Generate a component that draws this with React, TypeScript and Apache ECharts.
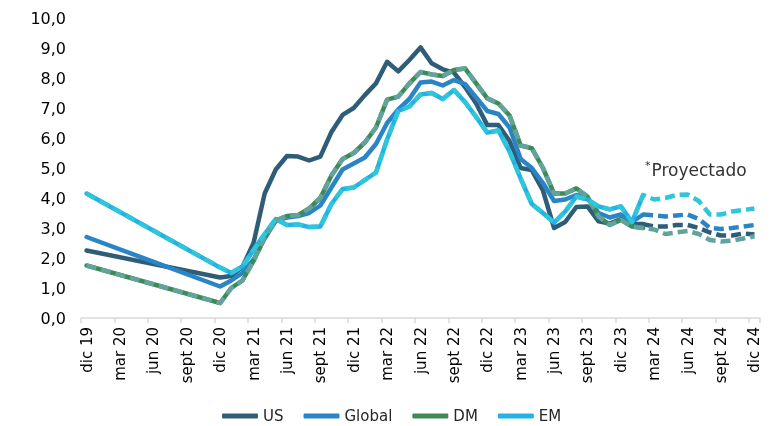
import React, { useEffect, useRef } from "react";
import * as echarts from "echarts";

const monthNames = ["dic", "ene", "feb", "mar", "abr", "may", "jun", "jul", "ago", "sept", "oct", "nov"];
const categories: string[] = [];
for (let i = 0; i <= 60; i++) {
  const m = i % 12;
  const yr = 19 + Math.floor((i + 11) / 12);
  categories.push(`${monthNames[m]} ${yr}`);
}

const N11 = [null, null, null, null, null, null, null, null, null, null, null];
const N10 = [null, null, null, null, null, null, null, null, null, null];
const N50 = new Array(50).fill(null);

const usValues = [2.25, ...N11,
  1.35, 1.4, 1.7, 2.5, 4.15, 4.95, 5.4, 5.38, 5.25, 5.38,
  6.2, 6.77, 7.0, 7.43, 7.82, 8.54, 8.22, 8.6, 9.02, 8.49,
  8.29, 8.18, 7.7, 7.15, 6.43, 6.43, 5.9, 5.0, 4.93, 4.25,
  3.0, 3.2, 3.7, 3.72, 3.22, 3.15, 3.3, 3.13, 3.13, ...N10];

const globalValues = [2.7, ...N11,
  1.05, 1.25, 1.5, 1.95, 2.65, 3.25, 3.35, 3.4, 3.5, 3.75,
  4.35, 4.95, 5.15, 5.35, 5.8, 6.5, 6.95, 7.3, 7.85, 7.88,
  7.75, 7.93, 7.8, 7.35, 6.9, 6.8, 6.35, 5.3, 5.0, 4.5,
  3.9, 3.95, 4.1, 4.0, 3.5, 3.35, 3.45, 3.2, 3.45, ...N10];

const dmValues = [1.75, ...N11,
  0.5, 1.0, 1.25, 1.9, 2.7, 3.25, 3.4, 3.43, 3.65, 4.0,
  4.75, 5.3, 5.5, 5.85, 6.35, 7.28, 7.38, 7.82, 8.2, 8.12,
  8.07, 8.27, 8.32, 7.82, 7.32, 7.15, 6.75, 5.75, 5.66, 5.0,
  4.15, 4.15, 4.32, 4.05, 3.38, 3.1, 3.27, 3.05, 3.0, ...N10];

const emValues = [4.15, ...N11,
  1.68, 1.5, 1.72, 2.27, 2.8, 3.3, 3.1, 3.12, 3.03, 3.05,
  3.8, 4.3, 4.35, 4.6, 4.85, 5.95, 6.9, 7.05, 7.45, 7.5,
  7.3, 7.6, 7.2, 6.7, 6.18, 6.25, 5.55, 4.65, 3.8, 3.5,
  3.18, 3.55, 4.05, 3.95, 3.72, 3.62, 3.72, 3.2, 4.1, ...N10];

// Projections (feb 24 .. dic 24)
const usProj = [3.13, 3.05, 3.05, 3.1, 3.1, 3.0, 2.85, 2.75, 2.75, 2.82, 2.78];
const globalProj = [3.45, 3.42, 3.38, 3.42, 3.45, 3.3, 3.0, 2.97, 3.0, 3.05, 3.1];
const dmProj = [3.0, 2.95, 2.8, 2.85, 2.9, 2.8, 2.6, 2.55, 2.58, 2.65, 2.72];
const emProj = [4.1, 3.95, 4.0, 4.1, 4.12, 3.9, 3.45, 3.45, 3.55, 3.6, 3.65];

const seriesNames = ["US", "Global", "DM", "EM"];
const colors = { US: "#2f5d78", Global: "#2a85c7", DM: "#3e8a55", EM: "#24b1e3" };
const dashColors = { US: "#2f5d78", Global: "#2a85c7", DM: "#62a39c", EM: "#2ec6da" };

const FONT = "DejaVu Sans";

export default function App() {
  const ref = useRef<HTMLDivElement>(null);
  useEffect(() => {
    if (!ref.current) return;
    const chart = echarts.init(ref.current, null, { renderer: "svg" });
    const solid = (name: string, data: any[], color: string) => ({
      name,
      type: "line",
      data,
      connectNulls: true,
      showSymbol: false,
      symbol: "none",
      itemStyle: { color },
      lineStyle: { color, width: 4.5, cap: "round", join: "round" },
      z: 2,
    });
    const dashed = (name: string, data: any[], color: string) => ({
      name,
      type: "line",
      data,
      connectNulls: true,
      showSymbol: false,
      symbol: "none",
      itemStyle: { color },
      lineStyle: { color, width: 4.5, type: [10, 5], cap: "butt", join: "round" },
      z: 3,
    });
    const dmFull = [...dmValues.slice(0, 50), ...dmProj];
    const emFull = [...emValues.slice(0, 50), ...emProj];
    chart.setOption({
      animation: false,
      textStyle: { fontFamily: FONT },
      grid: { left: 81, right: 14, top: 18, bottom: 108, containLabel: false },
      legend: {
        data: seriesNames,
        left: 222,
        top: 408,
        padding: 0,
        icon: "roundRect",
        itemWidth: 36,
        itemHeight: 5,
        itemGap: 20,
        textStyle: { fontSize: 15, lineHeight: 16, color: "#262626", fontFamily: FONT },
      },
      xAxis: {
        type: "category",
        data: categories,
        boundaryGap: true,
        axisLine: { lineStyle: { color: "#d9d9d9", width: 1.5 } },
        axisTick: { show: true, interval: 2, length: 5, lineStyle: { color: "#d9d9d9", width: 1.5 } },
        axisLabel: { interval: 2, rotate: 90, fontSize: 15, color: "#000", margin: 9, fontFamily: FONT },
        splitLine: { show: false },
      },
      yAxis: {
        type: "value",
        min: 0,
        max: 10,
        interval: 1,
        axisLine: { show: false },
        axisTick: { show: false },
        splitLine: { show: false },
        axisLabel: {
          fontSize: 16,
          color: "#000",
          margin: 15,
          fontFamily: FONT,
          formatter: (v: number) => v.toFixed(1).replace(".", ","),
        },
      },
      graphic: [
        {
          type: "text",
          left: 645,
          top: 160,
          style: {
            text: "{a|*}{b|Proyectado}",
            rich: {
              a: { fontSize: 11, fill: "#333", fontFamily: FONT, verticalAlign: "top", padding: [0, 1, 8, 0] },
              b: { fontSize: 17, fill: "#333", fontFamily: FONT },
            },
          },
        },
      ],
      series: [
        solid("US", usValues, colors.US),
        solid("Global", globalValues, colors.Global),
        solid("DM", dmValues, colors.DM),
        solid("EM", emValues, colors.EM),
        dashed("US proyectado", [...N50, ...usProj], dashColors.US),
        dashed("Global proyectado", [...N50, ...globalProj], dashColors.Global),
        dashed("DM proyectado", dmFull, dashColors.DM),
        dashed("EM proyectado", emFull, dashColors.EM),
      ],
    });
    return () => chart.dispose();
  }, []);
  return <div ref={ref} style={{ position: "fixed", left: 0, top: 0, width: 774, height: 426 }} />;
}
